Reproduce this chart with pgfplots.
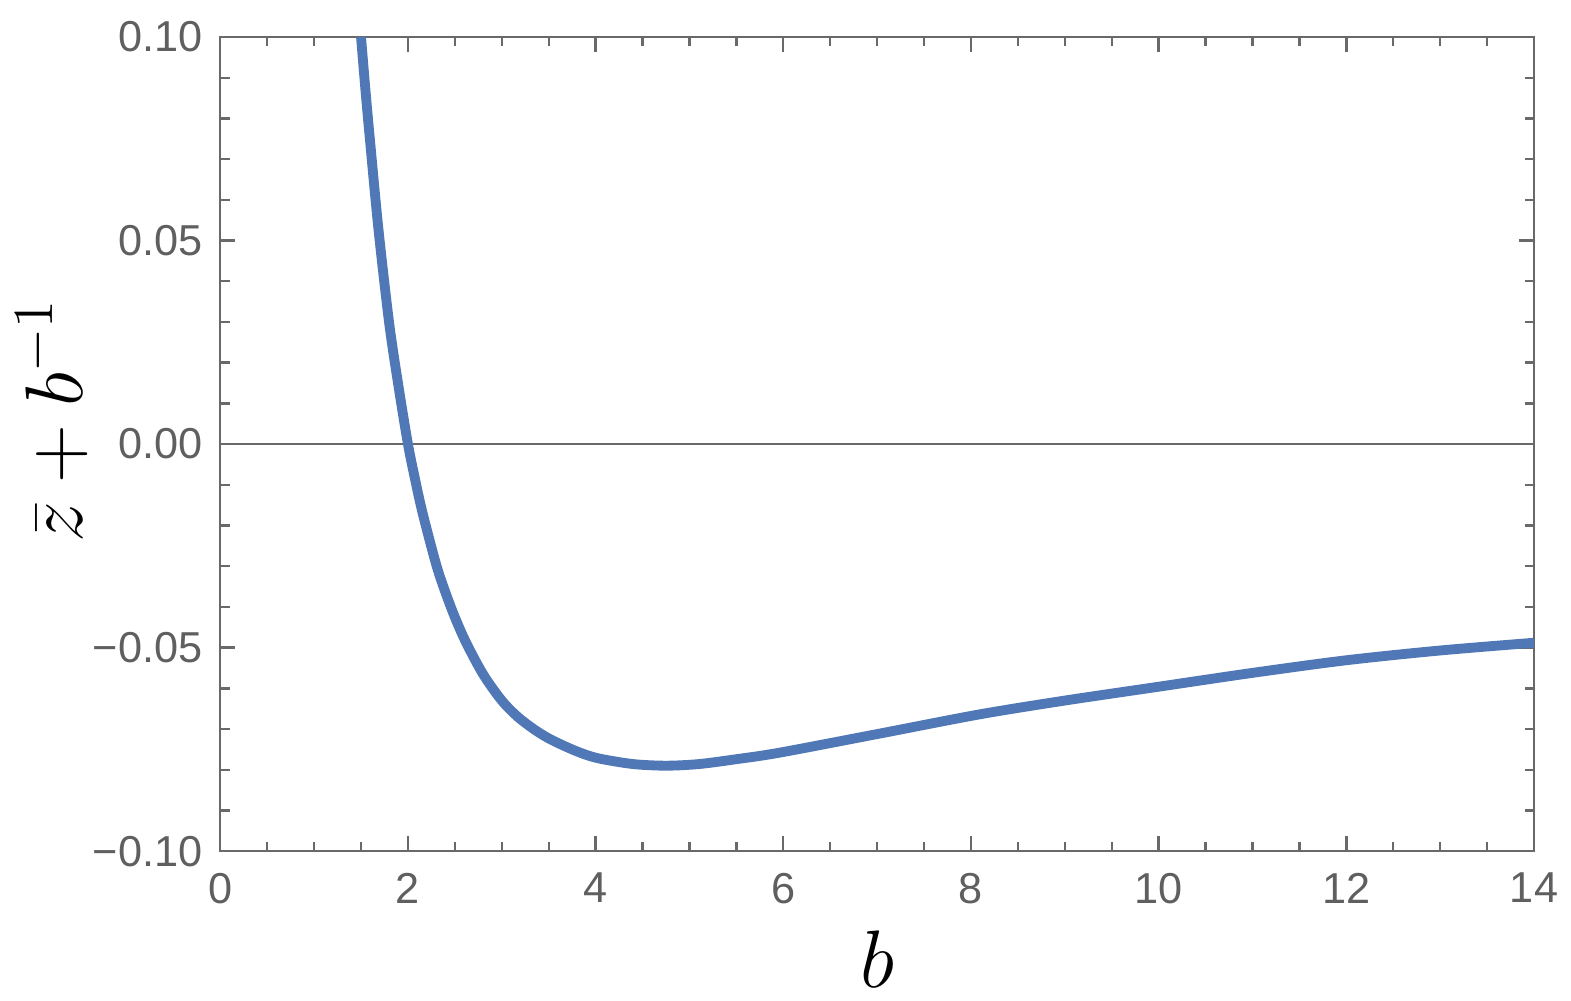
\documentclass[border=0pt]{standalone}
\usepackage{pgfplots}
\pgfplotsset{compat=1.18}
\usepackage{fontspec}
\newfontfamily\tickfont{Liberation Sans}
\definecolor{framegray}{RGB}{105,105,105}
\definecolor{labelgray}{RGB}{95,95,95}
\definecolor{curveblue}{RGB}{80,120,182}

\begin{document}
\begin{tikzpicture}
\begin{axis}[
  name=ax,
  scale only axis, width=334pt, height=207pt,
  xmin=0, xmax=14, ymin=-0.1, ymax=0.1,
  xtick={0,2,...,14}, xticklabels={0,2,4,6,8,10,12,14},
  ytick={-0.1,-0.05,0,0.05,0.1},
  yticklabels={−0.10,−0.05,0.00,0.05,0.10},
  minor x tick num=3, minor y tick num=4,
  tick align=inside, major tick length=3.8pt, minor tick length=2.4pt,
  axis line style={framegray, line width=0.6pt},
  every tick/.style={framegray, line width=0.6pt},
  tick label style={font=\tickfont\fontsize{11}{13}\selectfont, text=labelgray},
  xticklabel style={yshift=-2pt},
  yticklabel style={xshift=-1pt},
  xlabel={$b$}, ylabel={$\bar{z}+b^{-1}$},
  label style={font=\fontsize{20}{24}\selectfont},
  xlabel style={at={(axis description cs:0.5,-0.133)}, anchor=center},
  ylabel style={at={(axis description cs:-0.128,0.529)}, anchor=center},
]
% zero line
\addplot[framegray, line width=0.6pt, forget plot] coordinates {(0,0) (14,0)};
\addplot[curveblue, line width=2.5pt, smooth] coordinates {
  (1.50,0.1000) (1.55,0.0862) (1.60,0.0735) (1.686,0.0527) (1.80,0.0297)
  (1.90,0.0141) (2.00,0.0000) (2.07,-0.0080) (2.14,-0.0154) (2.235,-0.0240)
  (2.33,-0.0318) (2.47,-0.0408) (2.61,-0.0483) (2.80,-0.0565) (3.00,-0.0630)
  (3.17,-0.0670) (3.34,-0.0700) (3.50,-0.0723) (3.69,-0.0744) (3.87,-0.0761)
  (4.05,-0.0773) (4.40,-0.0786) (4.75,-0.0790) (5.10,-0.0786) (5.50,-0.0774)
  (5.96,-0.0758) (7.03,-0.0711) (8.09,-0.0664) (9.00,-0.0630) (10.0,-0.0596)
  (11.0,-0.0562) (12.0,-0.0531) (13.0,-0.0507) (14.0,-0.0488)
};
\end{axis}
\pgfresetboundingbox
\path ([shift={(-56pt,-38pt)}]ax.south west) rectangle ([shift={(9.4pt,9.4pt)}]ax.north east);
\end{tikzpicture}
\end{document}
